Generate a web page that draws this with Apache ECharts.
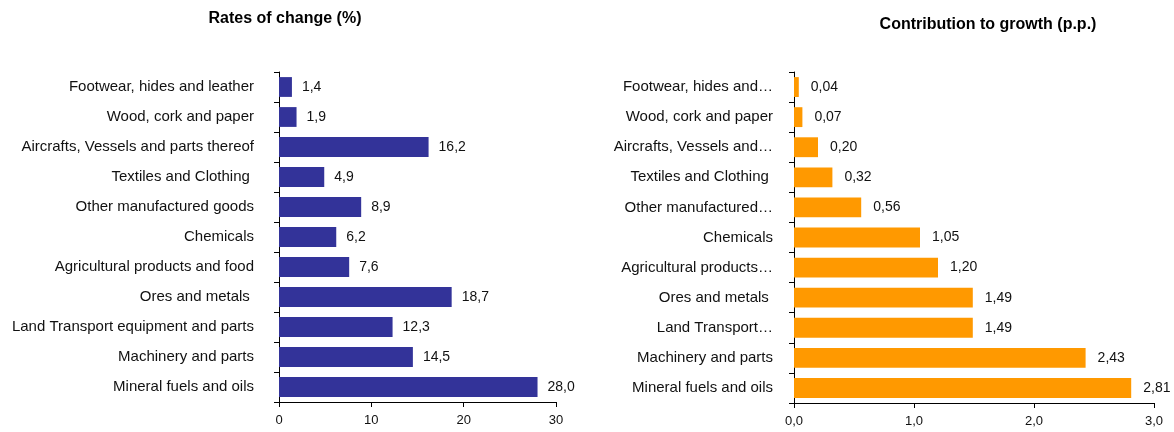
<!DOCTYPE html>
<html>
<head>
<meta charset="utf-8">
<script src="https://cdn.jsdelivr.net/npm/echarts@6/dist/echarts.min.js"></script>
<style>
    html, body {margin: 0; padding: 0; background: #fff;}
    #chart {width: 1174px; height: 432px;}
</style>
</head>
<body>
<div id="chart"></div>
<script>
const leftCategories = [
    "Footwear, hides and leather",
    "Wood, cork and paper",
    "Aircrafts, Vessels and parts thereof",
    "Textiles and Clothing ",
    "Other manufactured goods",
    "Chemicals",
    "Agricultural products and food",
    "Ores and metals ",
    "Land Transport equipment and parts",
    "Machinery and parts",
    "Mineral fuels and oils"
];
const rightCategories = [
    "Footwear, hides and…",
    "Wood, cork and paper",
    "Aircrafts, Vessels and…",
    "Textiles and Clothing ",
    "Other manufactured…",
    "Chemicals",
    "Agricultural products…",
    "Ores and metals ",
    "Land Transport…",
    "Machinery and parts",
    "Mineral fuels and oils"
];
const ratesOfChange = [1.4, 1.9, 16.2, 4.9, 8.9, 6.2, 7.6, 18.7, 12.3, 14.5, 28.0];
const contribution = [0.04, 0.07, 0.20, 0.32, 0.56, 1.05, 1.20, 1.49, 1.49, 2.43, 2.81];

const font = "'Liberation Sans', Arial, sans-serif";
const comma = (v, d) => v.toFixed(d).replace(".", ",");

const chart = echarts.init(document.getElementById("chart"));

const yAxisBase = (cats, margin) => ({
    type: "category",
    data: cats,
    inverse: true,
    axisLine: {lineStyle: {color: "#000", width: 1}},
    axisTick: {show: true, length: 5, lineStyle: {color: "#000"}},
    axisLabel: {color: "#111", fontSize: 15, fontFamily: font, margin: margin}
});

const xAxisBase = (max, interval, digits) => ({
    type: "value",
    min: 0,
    max: max,
    interval: interval,
    splitLine: {show: false},
    axisLine: {show: true, lineStyle: {color: "#000"}},
    axisTick: {show: true, length: 5, lineStyle: {color: "#000"}},
    axisLabel: {
        color: "#111", fontSize: 13, fontFamily: font, margin: 12,
        formatter: (v) => comma(v, digits)
    }
});

chart.setOption({
    animation: false,
    title: [
        {
            text: "Rates of change (%)",
            left: 280, top: 6, textAlign: "center",
            textStyle: {fontSize: 16, fontWeight: "bold", fontFamily: font, color: "#000"}
        },
        {
            text: "Contribution to growth (p.p.)",
            left: 983, top: 12, textAlign: "center",
            textStyle: {fontSize: 16, fontWeight: "bold", fontFamily: font, color: "#000"}
        }
    ],
    grid: [
        {left: 279, right: 618, top: 72, bottom: 30},
        {left: 794, right: 20, top: 72, bottom: 29}
    ],
    xAxis: [
        Object.assign(xAxisBase(30, 10, 0), {gridIndex: 0}),
        Object.assign(xAxisBase(3, 1, 1), {gridIndex: 1})
    ],
    yAxis: [
        Object.assign(yAxisBase(leftCategories, 25), {gridIndex: 0}),
        Object.assign(yAxisBase(rightCategories, 21), {gridIndex: 1})
    ],
    series: [
        {
            type: "bar",
            xAxisIndex: 0,
            yAxisIndex: 0,
            data: ratesOfChange,
            barCategoryGap: "34%",
            itemStyle: {color: "#333399"},
            label: {
                show: true, position: "right", distance: 10,
                color: "#111", fontSize: 14, fontFamily: font,
                formatter: (p) => comma(p.value, 1)
            }
        },
        {
            type: "bar",
            xAxisIndex: 1,
            yAxisIndex: 1,
            data: contribution,
            barCategoryGap: "34%",
            itemStyle: {color: "#FF9900"},
            label: {
                show: true, position: "right", distance: 12,
                color: "#111", fontSize: 14, fontFamily: font,
                formatter: (p) => comma(p.value, 2)
            }
        }
    ]
});
</script>
</body>
</html>
